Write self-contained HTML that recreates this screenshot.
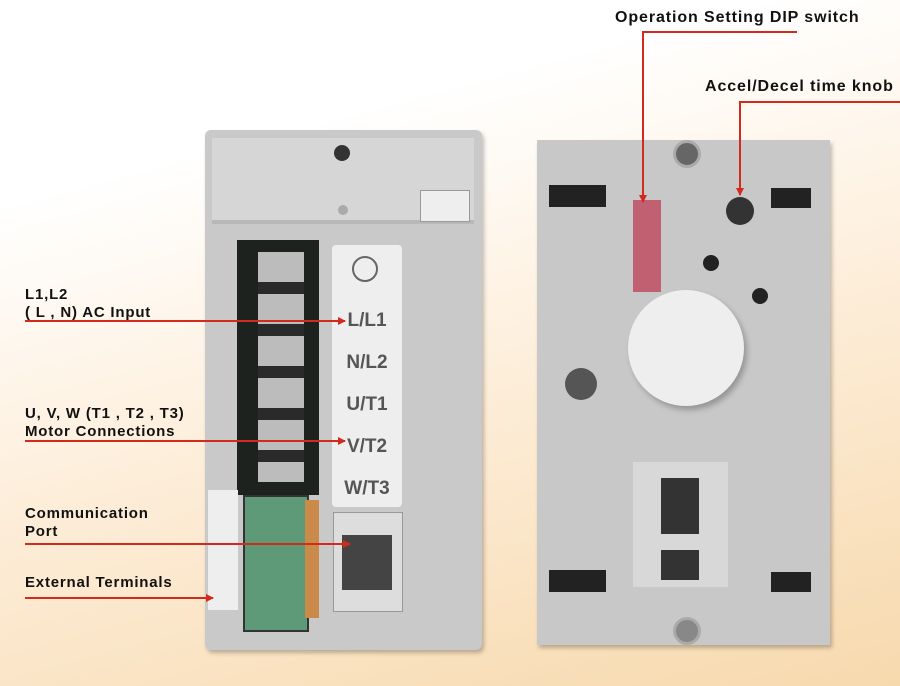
<!DOCTYPE html><html><head><style>
body{margin:0;width:900px;height:686px;overflow:hidden;position:relative;font-family:"Liberation Sans",sans-serif;
background:linear-gradient(165deg,#fff 0%,#fff 22%,#fdeeda 55%,#f7d9ad 100%);}
.a{position:absolute}
.t{position:absolute;font-weight:bold;font-size:16px;color:#111;line-height:19px;letter-spacing:0.9px}
.s{font-size:15px;letter-spacing:0.8px;line-height:18px}
</style></head><body>
<!-- left device -->
<div class="a" style="left:205px;top:130px;width:277px;height:520px;background:#c9c9c9;border-radius:6px;box-shadow:2px 3px 4px rgba(0,0,0,.25)"></div>
<div class="a" style="left:212px;top:138px;width:262px;height:82px;background:#d6d6d6;border-bottom:4px solid #b8b8b8"></div>
<div class="a" style="left:334px;top:145px;width:16px;height:16px;border-radius:50%;background:#333"></div>
<div class="a" style="left:338px;top:205px;width:10px;height:10px;border-radius:50%;background:#aaa"></div>
<div class="a" style="left:420px;top:190px;width:48px;height:30px;background:#eee;border:1px solid #999"></div>
<div class="a" style="left:237px;top:240px;width:82px;height:255px;background:#1e221e"></div>
<div class="a" style="left:258px;top:252px;width:46px;height:230px;background:repeating-linear-gradient(#bcbcbc 0 30px,#2a2a2a 30px 42px)"></div>
<div class="a" style="left:332px;top:245px;width:70px;height:262px;background:#eee;border-radius:4px;font-size:19px;font-weight:bold;color:#555;text-align:center;line-height:42px;padding-top:55px;box-sizing:border-box">L/L1<br>N/L2<br>U/T1<br>V/T2<br>W/T3</div>
<div class="a" style="left:352px;top:256px;width:22px;height:22px;border-radius:50%;border:2px solid #666"></div>
<div class="a" style="left:208px;top:490px;width:30px;height:120px;background:#eee"></div>
<div class="a" style="left:243px;top:495px;width:62px;height:133px;background:#5f9a78;border:2px solid #333"></div>
<div class="a" style="left:305px;top:500px;width:14px;height:118px;background:#c98a4a"></div>
<div class="a" style="left:333px;top:512px;width:68px;height:98px;background:#ddd;border:1px solid #999"></div>
<div class="a" style="left:342px;top:535px;width:50px;height:55px;background:#444"></div>
<!-- right device -->
<div class="a" style="left:537px;top:140px;width:293px;height:505px;background:#c8c8c8;box-shadow:2px 3px 4px rgba(0,0,0,.25)"></div>
<div class="a" style="left:673px;top:140px;width:22px;height:22px;border-radius:50%;background:#666;border:3px solid #aaa"></div>
<div class="a" style="left:673px;top:617px;width:22px;height:22px;border-radius:50%;background:#888;border:3px solid #aaa"></div>
<div class="a" style="left:549px;top:185px;width:57px;height:22px;background:#222"></div>
<div class="a" style="left:771px;top:188px;width:40px;height:20px;background:#222"></div>
<div class="a" style="left:549px;top:570px;width:57px;height:22px;background:#222"></div>
<div class="a" style="left:771px;top:572px;width:40px;height:20px;background:#222"></div>
<div class="a" style="left:633px;top:200px;width:28px;height:92px;background:#c06070"></div>
<div class="a" style="left:726px;top:197px;width:28px;height:28px;border-radius:50%;background:#333"></div>
<div class="a" style="left:703px;top:255px;width:16px;height:16px;border-radius:50%;background:#222"></div>
<div class="a" style="left:752px;top:288px;width:16px;height:16px;border-radius:50%;background:#222"></div>
<div class="a" style="left:565px;top:368px;width:32px;height:32px;border-radius:50%;background:#555"></div>
<div class="a" style="left:628px;top:290px;width:116px;height:116px;border-radius:50%;background:#eee;box-shadow:3px 4px 6px rgba(0,0,0,.25)"></div>
<div class="a" style="left:633px;top:462px;width:95px;height:125px;background:#d8d8d8"></div>
<div class="a" style="left:661px;top:478px;width:38px;height:56px;background:#333"></div>
<div class="a" style="left:661px;top:550px;width:38px;height:30px;background:#333"></div>
<!-- labels -->
<div class="t" style="left:615px;top:8px;white-space:nowrap">Operation Setting DIP switch</div>
<div class="t" style="left:705px;top:77px;white-space:nowrap">Accel/Decel time knob</div>
<div class="t s" style="left:25px;top:286px">L1,L2<br>( L , N) AC Input</div>
<div class="t s" style="left:25px;top:405px">U, V, W (T1 , T2 , T3)<br>Motor Connections</div>
<div class="t s" style="left:25px;top:505px">Communication<br>Port</div>
<div class="t s" style="left:25px;top:574px">External Terminals</div>
<svg class="a" style="left:0;top:0" width="900" height="686">
<defs><marker id="m" markerWidth="8" markerHeight="8" refX="7" refY="4" orient="auto" markerUnits="userSpaceOnUse"><path d="M0,0L8,4L0,8z" fill="#d42a1e"/></marker></defs>
<g stroke="#d42a1e" stroke-width="2" fill="none" marker-end="url(#m)">
<polyline points="797,32 643,32 643,202"/>
<polyline points="900,102 740,102 740,195"/>
<line x1="25" y1="321" x2="345" y2="321"/>
<line x1="25" y1="441" x2="345" y2="441"/>
<line x1="25" y1="544" x2="350" y2="544"/>
<line x1="25" y1="598" x2="213" y2="598"/>
</g></svg>
</body></html>
